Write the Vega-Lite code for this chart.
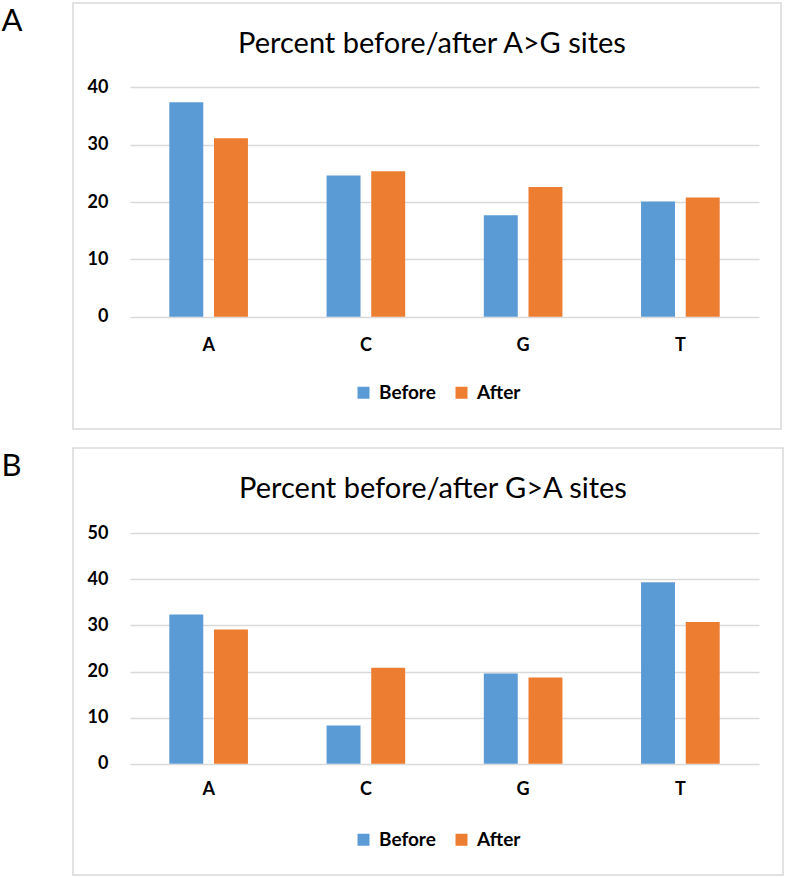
{
  "$schema": "https://vega.github.io/schema/vega-lite/v6.json",
  "padding": {"left": 0, "top": 2, "right": 0, "bottom": 0},
  "background": "white",
  "config": {
    "font": "Lato",
    "view": {"stroke": "#d9d9d9", "strokeWidth": 1.5},
    "concat": {"spacing": 17}
  },
  "data": {
    "values": [
      {"panel": "A", "base": "A", "when": "Before", "value": 37.4},
      {"panel": "A", "base": "A", "when": "After", "value": 31.1},
      {"panel": "A", "base": "C", "when": "Before", "value": 24.6},
      {"panel": "A", "base": "C", "when": "After", "value": 25.35},
      {"panel": "A", "base": "G", "when": "Before", "value": 17.7},
      {"panel": "A", "base": "G", "when": "After", "value": 22.6},
      {"panel": "A", "base": "T", "when": "Before", "value": 20.1},
      {"panel": "A", "base": "T", "when": "After", "value": 20.8},
      {"panel": "B", "base": "A", "when": "Before", "value": 32.4},
      {"panel": "B", "base": "A", "when": "After", "value": 29.1},
      {"panel": "B", "base": "C", "when": "Before", "value": 8.3},
      {"panel": "B", "base": "C", "when": "After", "value": 20.8},
      {"panel": "B", "base": "G", "when": "Before", "value": 19.6},
      {"panel": "B", "base": "G", "when": "After", "value": 18.7},
      {"panel": "B", "base": "T", "when": "Before", "value": 39.4},
      {"panel": "B", "base": "T", "when": "After", "value": 30.75}
    ]
  },
  "resolve": {"legend": {"color": "independent"}},
  "vconcat": [
    {
      "width": 708,
      "height": 426,
      "title": {"text": "Percent before/after A>G sites", "fontSize": 29, "fontWeight": "normal", "color": "#000000", "anchor": "middle", "frame": "group", "offset": -56, "dx": 5},
      "transform": [{"filter": "datum.panel == 'A'"}],
      "mark": {"type": "bar"},
      "encoding": {
        "x": {"field": "base", "type": "nominal", "sort": ["A", "C", "G", "T"],
          "scale": {"range": [57, 686], "paddingInner": 0.5, "paddingOuter": 0.25},
          "axis": {"title": null, "labelAngle": 0, "ticks": false, "domain": false, "offset": -93, "labelPadding": 0, "labelFontSize": 18, "labelFontWeight": "bold", "labelColor": "#000000", "grid": false}},
        "xOffset": {"field": "when", "type": "nominal", "sort": ["Before", "After"], "scale": {"paddingInner": 0.24, "paddingOuter": 0}},
        "y": {"field": "value", "type": "quantitative",
          "scale": {"domain": [0, 40], "range": [313.7, 84.3], "nice": false},
          "axis": {"values": [0, 10, 20, 30, 40], "title": "A", "titleAngle": 0, "titleX": -107, "titleY": 3, "titleAlign": "left", "titleBaseline": "top", "titleFontSize": 31, "titleFontWeight": "normal", "titleColor": "#000000", "offset": -35, "ticks": false, "domain": false, "labelPadding": 0, "labelFontSize": 18, "labelFontWeight": "bold", "labelColor": "#000000", "grid": true, "gridColor": "#d9d9d9", "gridWidth": 1.5}},
        "color": {"field": "when", "type": "nominal", "sort": ["Before", "After"],
          "scale": {"domain": ["Before", "After"], "range": ["#5B9BD5", "#ED7D31"]},
          "legend": {"title": null, "orient": "none", "legendX": 281, "legendY": 380, "direction": "horizontal", "symbolType": "square", "symbolSize": 144, "symbolStrokeWidth": 0, "labelFontSize": 19, "labelFontWeight": "bold", "labelColor": "#000000", "columnPadding": 16, "labelOffset": 6, "padding": 0}}
      }
    },
    {
      "width": 710,
      "height": 427,
      "title": {"text": "Percent before/after G>A sites", "fontSize": 29, "fontWeight": "normal", "color": "#000000", "anchor": "middle", "frame": "group", "offset": -56, "dx": 5},
      "transform": [{"filter": "datum.panel == 'B'"}],
      "mark": {"type": "bar"},
      "encoding": {
        "x": {"field": "base", "type": "nominal", "sort": ["A", "C", "G", "T"],
          "scale": {"range": [57, 686], "paddingInner": 0.5, "paddingOuter": 0.25},
          "axis": {"title": null, "labelAngle": 0, "ticks": false, "domain": false, "offset": -95, "labelPadding": 0, "labelFontSize": 18, "labelFontWeight": "bold", "labelColor": "#000000", "grid": false}},
        "xOffset": {"field": "when", "type": "nominal", "sort": ["Before", "After"], "scale": {"paddingInner": 0.24, "paddingOuter": 0}},
        "y": {"field": "value", "type": "quantitative",
          "scale": {"domain": [0, 50], "range": [315.7, 85.3], "nice": false},
          "axis": {"values": [0, 10, 20, 30, 40, 50], "title": "B", "titleAngle": 0, "titleX": -107, "titleY": 3, "titleAlign": "left", "titleBaseline": "top", "titleFontSize": 31, "titleFontWeight": "normal", "titleColor": "#000000", "offset": -35, "ticks": false, "domain": false, "labelPadding": 0, "labelFontSize": 18, "labelFontWeight": "bold", "labelColor": "#000000", "grid": true, "gridColor": "#d9d9d9", "gridWidth": 1.5}},
        "color": {"field": "when", "type": "nominal", "sort": ["Before", "After"],
          "scale": {"domain": ["Before", "After"], "range": ["#5B9BD5", "#ED7D31"]},
          "legend": {"title": null, "orient": "none", "legendX": 281, "legendY": 382, "direction": "horizontal", "symbolType": "square", "symbolSize": 144, "symbolStrokeWidth": 0, "labelFontSize": 19, "labelFontWeight": "bold", "labelColor": "#000000", "columnPadding": 16, "labelOffset": 6, "padding": 0}}
      }
    }
  ]
}
